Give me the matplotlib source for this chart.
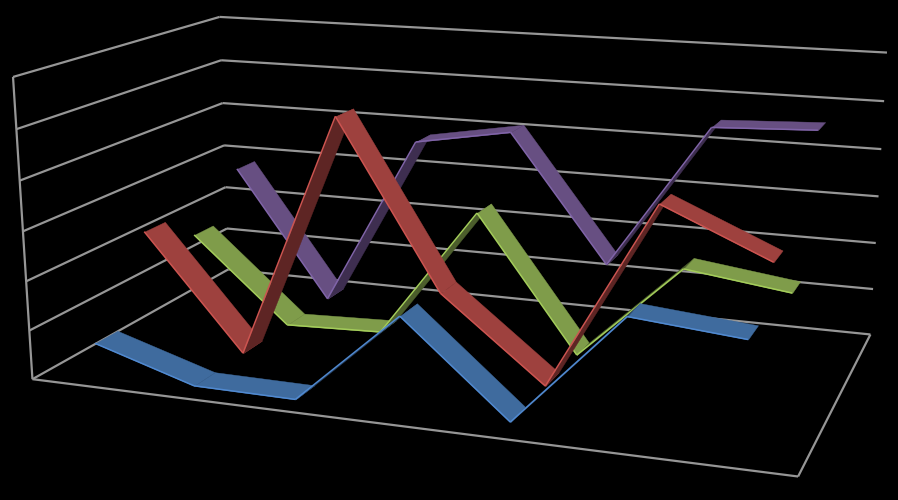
import numpy as np
import matplotlib
matplotlib.use('Agg')
import matplotlib.pyplot as plt
from mpl_toolkits.mplot3d.art3d import Poly3DCollection, Line3DCollection

categories = [1, 2, 3, 4, 5, 6, 7]
blue = [0.67, 0.04, 0.02, 1.90, 0.10, 2.34, 2.15]
red = [2.42, 0.05, 5.10, 1.75, 0.10, 3.89, 2.98]
green = [1.83, 0.03, 0.10, 2.86, 0.07, 2.09, 1.81]
purple = [2.84, 0.02, 3.76, 4.12, 1.42, 4.52, 4.61]
y_levels = [0, 1, 2, 3, 4, 5, 6]

# back to front: values, lit face, underside, front edge
series = [(3, purple, '#674F82', '#3E2E50', '#8064A8'),
          (2, green, '#7F9C4A', '#4C5E2C', '#A3CC5A'),
          (1, red, '#9E413E', '#5E2524', '#CC5450'),
          (0, blue, '#3F6B9E', '#263E5C', '#5089D0')]

grid_color = '#969696'
n_cat = len(categories)
n_ser = len(series)
top = y_levels[-1]

# camera: box corners (category, series, value) and where they sit in the picture
world = [(0, 0, 0), (0, 0, 6), (0, 4, 0), (0, 4, 6), (7, 4, 0), (7, 4, 6), (7, 0, 0), (0, 0, 3), (0, 4, 3), (7, 4, 3)]
pix = [(31.5, 379), (13, 77), (229, 270), (219, 17), (870, 334), (887, 53), (798, 477), (24, 231), (224, 145), (879, 196)]


def fit_camera(world, pix):
    A = []
    for (X, Y, Z), (u, v) in zip(world, pix):
        A.append([X, Y, Z, 1, 0, 0, 0, 0, -u*X, -u*Y, -u*Z, -u])
        A.append([0, 0, 0, 0, X, Y, Z, 1, -v*X, -v*Y, -v*Z, -v])
    P = np.linalg.svd(np.array(A, float))[2][-1].reshape(3, 4)
    return P / P[2, 3]


fig = plt.figure(figsize=(8.98, 5), dpi=100, facecolor='black')
ax = fig.add_axes([0, 0, 1, 1], projection='3d', facecolor='black')
ax.apply_aspect = lambda position=None: None
ax.set_axis_off()
ax.computed_zorder = False

flip = np.array([[1, 0, 0], [0, -1, 500], [0, 0, 1.0]])
H = ax.transData.inverted().get_matrix() @ flip @ fit_camera(world, pix)
M = np.array([H[0], H[1], [0, 0.01, 0, 0], H[2]])
ax.get_proj = lambda: M

# walls and floor
frame = []
for lev in y_levels:
    frame.append([(0, 0, lev), (0, n_ser, lev)])
    frame.append([(0, n_ser, lev), (n_cat, n_ser, lev)])
frame.append([(0, 0, 0), (0, 0, top)])
frame.append([(0, 0, 0), (n_cat, 0, 0)])
frame.append([(n_cat, 0, 0), (n_cat, n_ser, 0)])
ax.add_collection3d(Line3DCollection(frame, colors=grid_color, linewidths=1.6, zorder=1), autolim=False)

# ribbons, left to right inside a series
z = 10
for s, vals, lit, dark, edge in series:
    y0, y1 = s + 0.29, s + 0.70
    for i in range(n_cat - 1):
        x0, x1 = i + 0.5, i + 1.5
        quad = [(x0, y0, vals[i]), (x1, y0, vals[i+1]), (x1, y1, vals[i+1]), (x0, y1, vals[i])]
        col = dark if vals[i+1] - vals[i] > 0.5 else lit
        poly = Poly3DCollection([quad], facecolors=col, edgecolors=col, linewidths=0.3, zorder=z)
        ax.add_collection3d(poly, autolim=False)
        front = Line3DCollection([[quad[0], quad[1]]], colors=edge, linewidths=1.1, zorder=z + 1)
        ax.add_collection3d(front, autolim=False)
        z += 2

fig.savefig('out.png', dpi=100, facecolor='black')
